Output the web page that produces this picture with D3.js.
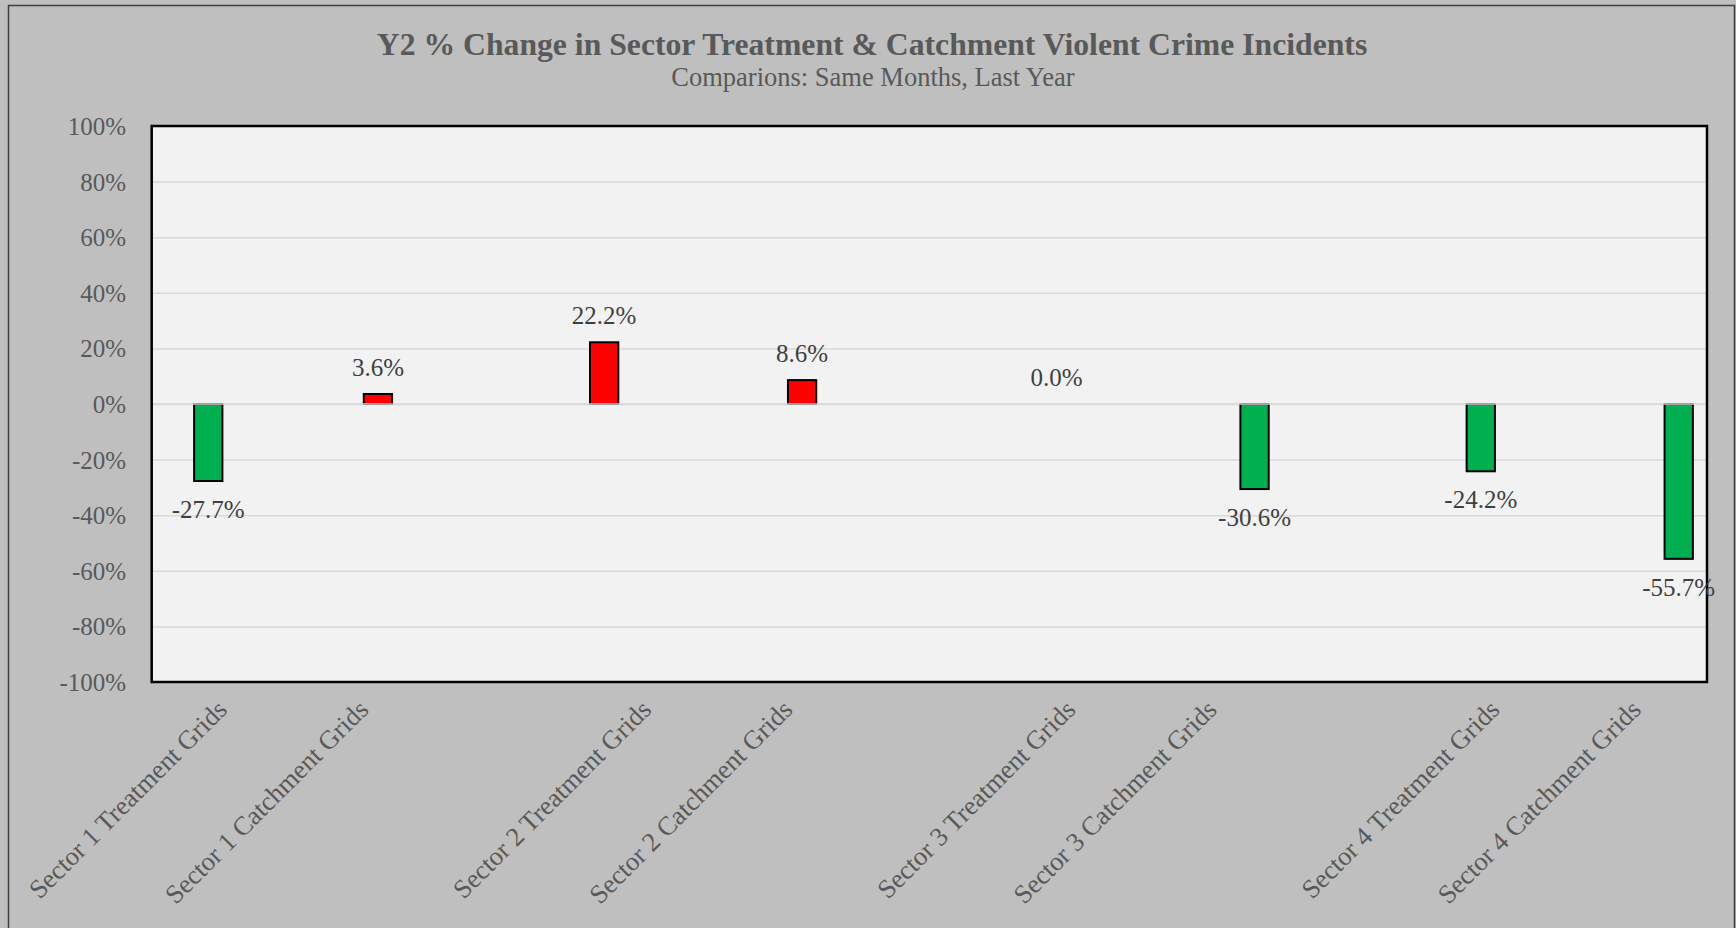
<!DOCTYPE html>
<html>
<head>
<meta charset="utf-8">
<script src="https://cdn.jsdelivr.net/npm/d3@7"></script>
<style>
  html, body { margin: 0; padding: 0; background: #BFBFBF; }
  svg { display: block; }
  text { font-family: "Liberation Serif", "Times New Roman", serif; }
</style>
</head>
<body>
<svg id="chart" width="1736" height="928"></svg>
<script>
// Category slots along the x axis (blank slots separate the sectors)
const categories = [
  "Sector 1 Treatment Grids", "Sector 1 Catchment Grids", "",
  "Sector 2 Treatment Grids", "Sector 2 Catchment Grids", "",
  "Sector 3 Treatment Grids", "Sector 3 Catchment Grids", "",
  "Sector 4 Treatment Grids", "Sector 4 Catchment Grids"
];

// Clustered series (null = no bar in that slot)
const series1 = [null, null, null, 0.222, null, null, null, null, null, null, null];
const series2 = [-0.277, null, null, null, null, null, 0.000, null, null, -0.242, null];
const series3 = [null, 0.036, null, null, 0.086, null, null, null, null, null, null];
const series4 = [null, null, null, null, null, null, null, -0.306, null, null, -0.557];
const seriesList = [series1, series2, series3, series4];

const yTicks = [-1, -0.8, -0.6, -0.4, -0.2, 0, 0.2, 0.4, 0.6, 0.8, 1];

const titleText = "Y2 % Change in Sector Treatment & Catchment Violent Crime Incidents";
const subtitleText = "Comparions: Same Months, Last Year";

const locale = d3.formatLocale({ decimal: ".", thousands: ",", grouping: [3], currency: ["$", ""], minus: "-" });
const fmtTick = locale.format(".0%");
const fmtLabel = locale.format(".1%");

const svg = d3.select("#chart");
const W = 1736, H = 928;

// chart area
svg.append("rect").attr("x", 0).attr("y", 0).attr("width", W).attr("height", H).attr("fill", "#BFBFBF");
svg.append("rect").attr("x", 8.5).attr("y", 5.5).attr("width", 1726).attr("height", 940)
  .attr("fill", "none").attr("stroke", "#3F3F3F").attr("stroke-width", 1.5);

// titles
svg.append("text").attr("x", 872).attr("y", 55).attr("text-anchor", "middle")
  .attr("font-size", 31.7).attr("font-weight", "bold").attr("fill", "#595959").text(titleText);
svg.append("text").attr("x", 873).attr("y", 86).attr("text-anchor", "middle")
  .attr("font-size", 26.5).attr("fill", "#595959").text(subtitleText);

// plot area
const plot = { left: 151.7, top: 126, right: 1707, bottom: 682 };
const pw = plot.right - plot.left, ph = plot.bottom - plot.top;

svg.append("rect").attr("x", plot.left).attr("y", plot.top).attr("width", pw).attr("height", ph)
  .attr("fill", "#F2F2F2");

const x0 = d3.scaleBand().domain(d3.range(categories.length))
  .range([plot.left, plot.right]).paddingInner(0.2).paddingOuter(0.1);
const x1 = d3.scaleBand().domain(d3.range(seriesList.length)).range([0, x0.bandwidth()]);
const y = d3.scaleLinear().domain([-1, 1]).range([plot.bottom, plot.top]);

// gridlines
const grid = svg.append("g").attr("transform", `translate(${plot.left},0)`)
  .call(d3.axisLeft(y).tickValues(yTicks).tickSize(-pw).tickFormat(""));
grid.select(".domain").remove();
grid.selectAll("line").attr("stroke", "#D9D9D9").attr("stroke-width", 1.5);

// y tick labels
const yAxis = svg.append("g").attr("transform", `translate(${plot.left},0)`)
  .call(d3.axisLeft(y).tickValues(yTicks).tickSize(0).tickPadding(25.5).tickFormat(fmtTick));
yAxis.select(".domain").remove();
yAxis.selectAll("text").attr("font-size", 25).attr("fill", "#595959")
  .attr("font-family", "'Liberation Serif', 'Times New Roman', serif").attr("dy", "0.34em");

// bars
const bars = [];
seriesList.forEach((s, si) => s.forEach((v, ci) => { if (v !== null) bars.push({ si, ci, v }); }));

svg.append("g").selectAll("rect").data(bars.filter(d => d.v !== 0)).join("rect")
  .attr("x", d => x0(d.ci) + x1(d.si))
  .attr("width", x1.bandwidth())
  .attr("y", d => y(Math.max(0, d.v)))
  .attr("height", d => Math.abs(y(d.v) - y(0)))
  .attr("fill", d => d.v > 0 ? "#FF0000" : "#00B050")
  .attr("stroke", "#000").attr("stroke-width", 2);

// horizontal category axis at zero
svg.append("line").attr("x1", plot.left).attr("x2", plot.right).attr("y1", y(0)).attr("y2", y(0))
  .attr("stroke", "#D9D9D9").attr("stroke-width", 1.5);

// plot border
svg.append("rect").attr("x", plot.left).attr("y", plot.top).attr("width", pw).attr("height", ph)
  .attr("fill", "none").attr("stroke", "#000").attr("stroke-width", 2.5);

// data labels
svg.append("g").selectAll("text").data(bars).join("text")
  .attr("x", d => x0(d.ci) + x1(d.si) + x1.bandwidth() / 2)
  .attr("y", d => d.v >= 0 ? y(d.v) - 18 : y(d.v) + 37)
  .attr("text-anchor", "middle").attr("font-size", 25).attr("fill", "#404040")
  .text(d => fmtLabel(d.v));

// category labels
const xAxis = svg.append("g").attr("transform", `translate(0,${plot.bottom})`)
  .call(d3.axisBottom(x0).tickSize(0).tickFormat(i => categories[i]));
xAxis.select(".domain").remove();
xAxis.selectAll(".tick").attr("transform", d => `translate(${x0(d) + x0.bandwidth() / 2},0)`);
xAxis.selectAll("text")
  .attr("x", 0).attr("y", 0).attr("dy", "0.33em")
  .attr("transform", "translate(0,23) rotate(-45)")
  .attr("text-anchor", "end").attr("font-size", 26.5).attr("fill", "#595959")
  .attr("font-family", "'Liberation Serif', 'Times New Roman', serif");
</script>
</body>
</html>
